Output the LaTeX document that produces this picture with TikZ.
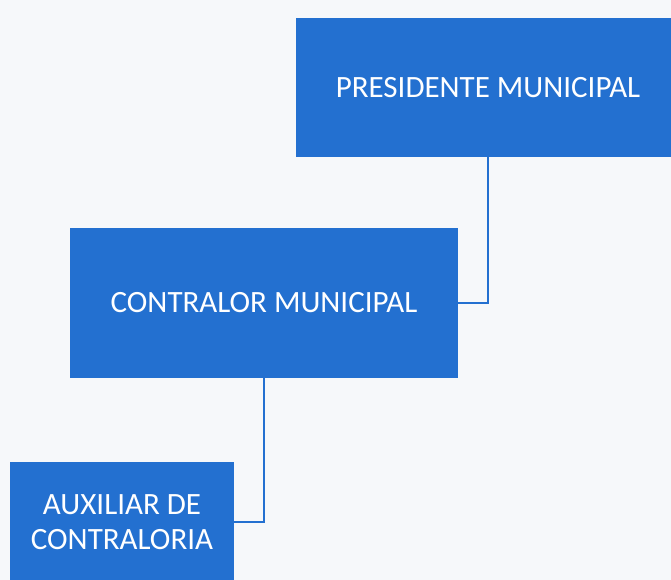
\documentclass[tikz,border=0pt]{standalone}
\usepackage{fontspec}
\setmainfont{Carlito}
\usetikzlibrary{calc}

\definecolor{orgblue}{RGB}{35,112,208}
\definecolor{paper}{RGB}{246,248,250}

\tikzset{
  postbox/.style={fill=orgblue, draw=none, text=white, align=center,
    inner sep=0pt, font=\fontsize{31}{35}\selectfont},
  link/.style={draw=orgblue, line width=2pt}
}

\begin{document}
\begin{tikzpicture}[x=1pt, y=-1pt]

      % page frame (fixes the margins)
      \fill[paper] (0,0) rectangle (671,580);
      \useasboundingbox (0,0) rectangle (671,580);

      % Boxes of the chart
      \node[postbox, minimum width=384pt, minimum height=139pt] (pres) at (488,87.5) {PRESIDENTE MUNICIPAL};
      \node[postbox, minimum width=388pt, minimum height=150pt] (contr) at (264,303) {CONTRALOR MUNICIPAL};
      \node[postbox, minimum width=224pt, minimum height=120pt] (aux) at (122,522) {AUXILIAR DE\\CONTRALORIA};

      % Connectors
      \draw[link] (pres.south) |- (contr.east);
      \draw[link] (contr.south) |- (aux.east);

    \end{tikzpicture}
\end{document}
